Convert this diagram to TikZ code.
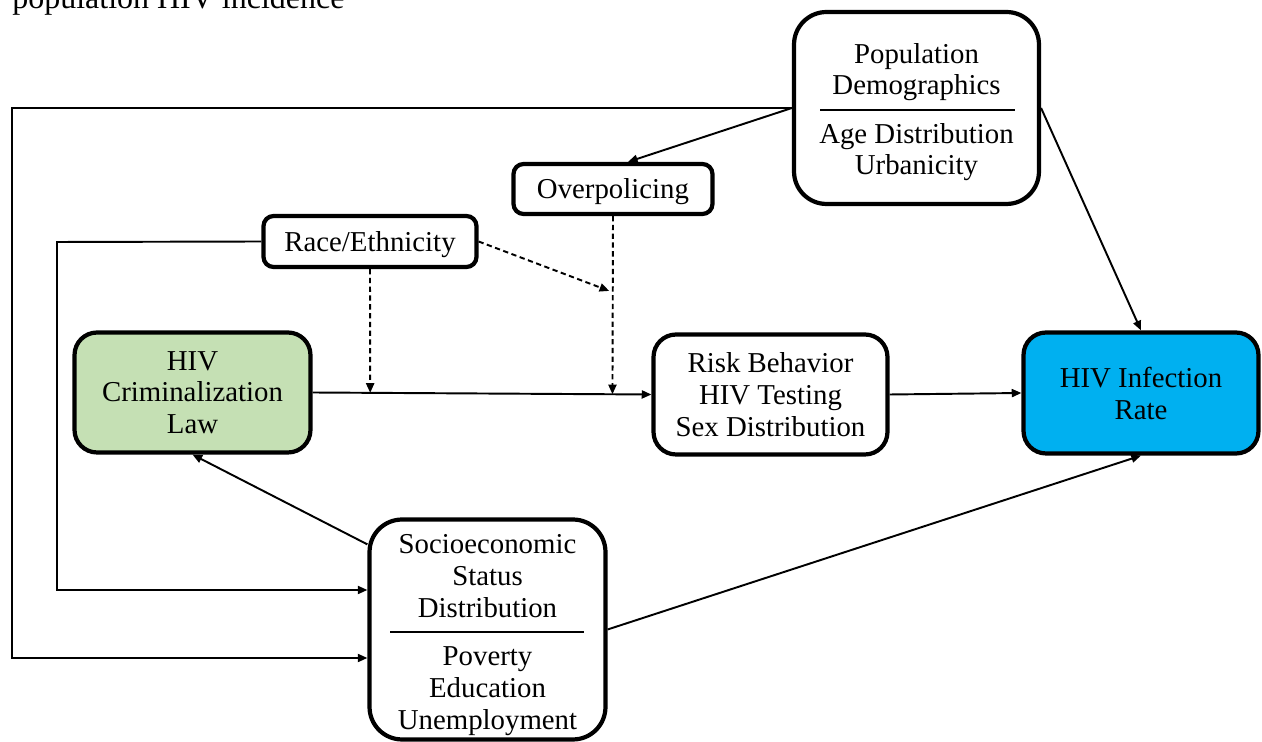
\documentclass[tikz,border=0pt]{standalone}
\usepackage{fontspec}
\setmainfont{Liberation Serif}
\usetikzlibrary{arrows.meta,calc}

\definecolor{lawgreen}{HTML}{C5E0B4}
\definecolor{rateblue}{HTML}{00B0F0}

\tikzset{
  box/.style={draw=black, line width=2.4pt, align=center, inner sep=0pt,
              text depth=0pt, font=\fontsize{16.4}{18.1}\selectfont},
  label/.style={align=center, inner sep=0pt, text depth=0pt,
                font=\fontsize{16.4}{18.1}\selectfont},
  link/.style={line width=1.1pt, -{Triangle[length=5.5pt,width=4.6pt]}},
  moderator/.style={line width=1.1pt, dash pattern=on 3pt off 2pt,
                    -{Triangle[length=5.5pt,width=4.6pt]}},
}

\begin{document}
\begin{tikzpicture}[x=0.02cm, y=-0.02cm]
  \clip (0,0) rectangle (1262,742);
  \useasboundingbox (0,0) rectangle (1262,742);

  % caption line running in from above
  \node[anchor=base west, inner sep=0pt, font=\fontsize{18.2}{20}\selectfont]
    (cap) at (12,8.5) {population HIV incidence};

  % boxes
  \node[box, rounded corners=0.65cm, minimum width=4.90cm, minimum height=3.84cm]
    (pd) at (916.5,108) {};
  \node[label] (pdT) at (916.5,69) {Population\\Demographics};
  \node[label] (pdB) at (916.5,149) {Age Distribution\\Urbanicity};
  \draw[line width=1.1pt] (820,110) coordinate (pdL) -- (1015,110) coordinate (pdR);

  \node[box, rounded corners=0.2cm, minimum width=3.98cm, minimum height=1.0cm]
    (op) at (613,189) {Overpolicing};

  \node[box, rounded corners=0.2cm, minimum width=4.26cm, minimum height=1.02cm]
    (race) at (370,241.5) {Race/Ethnicity};

  \node[box, fill=lawgreen, rounded corners=0.45cm, minimum width=4.72cm, minimum height=2.4cm]
    (crim) at (192.5,392.5) {HIV\\Criminalization\\Law};

  \node[box, rounded corners=0.45cm, minimum width=4.68cm, minimum height=2.4cm]
    (risk) at (770.5,394.5) {Risk Behavior\\HIV Testing\\Sex Distribution};

  \node[box, fill=rateblue, rounded corners=0.45cm, minimum width=4.70cm, minimum height=2.42cm]
    (inf) at (1141,393) {HIV Infection\\Rate};

  \node[box, rounded corners=0.65cm, minimum width=4.72cm, minimum height=4.40cm]
    (ses) at (487.5,629.5) {};
  \node[label] (sesT) at (487.5,576) {Socioeconomic\\Status\\Distribution};
  \node[label] (sesB) at (487.5,688) {Poverty\\Education\\Unemployment};
  \draw[line width=1.1pt] (390,632) coordinate (sesL) -- (584,632) coordinate (sesR);

  % turning points of the outer loops
  \coordinate (outerTop) at (12,108);
  \coordinate (outerBot) at (12,658);
  \coordinate (innerTop) at (57,242);
  \coordinate (innerBot) at (57,590);

  % points on the main path where the moderators act
  \coordinate (m1) at ($(crim.east)!0.17!(risk.west)$);
  \coordinate (m2) at ($(crim.east)!0.885!(risk.west)$);
  \coordinate (m3) at ($(op.south)!0.42!(m2)$);

  % main causal path
  \draw[link] (crim.east) -- (risk.west);
  \draw[link] (risk.east) -- (inf.west);

  % demographics
  \draw[link] (pd.west) -- (outerTop) -- (outerBot) -- (ses.west |- outerBot);
  \draw[link] (pd.west) -- ([xshift=0.3cm]op.north);
  \draw[link] (pd.east) -- (inf.north);

  % race / ethnicity
  \draw[link] (race.west) -- (innerTop) -- (innerBot) -- (ses.west |- innerBot);
  \draw[moderator] (race.south) -- (m1);
  \draw[moderator] (race.east) -- ([xshift=-2pt]m3);
  \draw[moderator] (op.south) -- (m2);

  % socioeconomic status
  \draw[link] ([yshift=-0.54cm]ses.north west) -- (crim.south);
  \draw[link] (ses.east) -- (inf.south);
\end{tikzpicture}
\end{document}
